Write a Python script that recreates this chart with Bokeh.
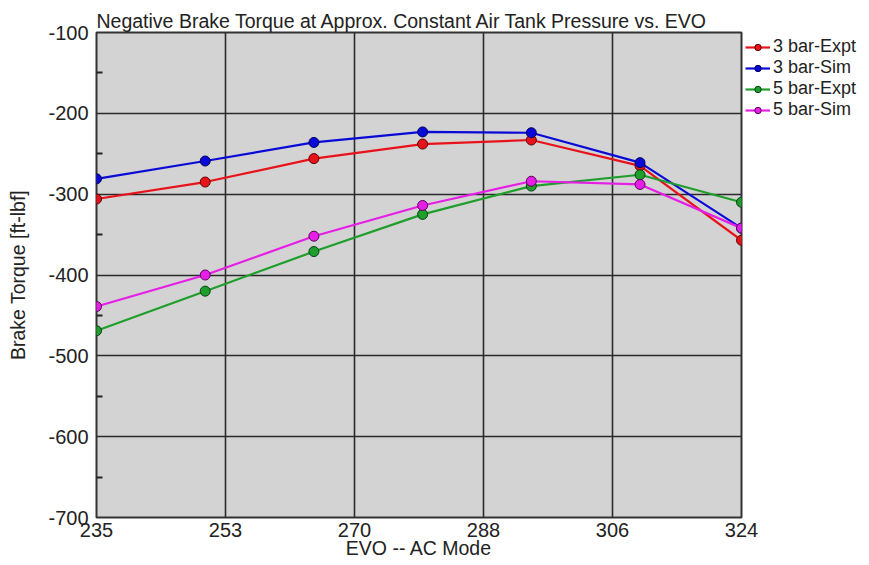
from bokeh.plotting import figure
from bokeh.models import Range1d, FixedTicker, Legend, LegendItem
from bokeh.embed import file_html
from bokeh.resources import INLINE

# EVO angle settings and measured / simulated brake torque (ft-lbf)
evo = [235, 250, 265, 280, 295, 310, 324]
bar3_expt = [-306, -285, -256, -238, -233, -265, -357]
bar3_sim = [-281, -259, -236, -223, -224, -261, -342]
bar5_expt = [-469, -420, -371, -325, -290, -276, -310]
bar5_sim = [-439, -400, -352, -314, -284, -288, -342]

series_names = ["3 bar-Expt", "3 bar-Sim", "5 bar-Expt", "5 bar-Sim"]
series_values = [bar3_expt, bar3_sim, bar5_expt, bar5_sim]
series_colors = ["#e8121a", "#0a0ad8", "#1f9e2c", "#e61ee6"]
series_edges = ["#5a0000", "#00005a", "#004010", "#5a005a"]

x_ticks = [235, 252.8, 270.6, 288.4, 306.2, 324]
x_tick_labels = ["235", "253", "270", "288", "306", "324"]
y_ticks = [-700, -600, -500, -400, -300, -200, -100]
y_tick_labels = ["-700", "-600", "-500", "-400", "-300", "-200", "-100"]
y_minor_ticks = [-650, -550, -450, -350, -250, -150]

FONT = "Liberation Sans"

p = figure(frame_width=645, frame_height=485, output_backend="svg",
           toolbar_location=None,
           x_range=Range1d(235, 324), y_range=Range1d(-700, -100),
           min_border_left=96, min_border_right=128, min_border_top=32,
           min_border_bottom=48)

p.title.text = "Negative Brake Torque at Approx. Constant Air Tank Pressure vs. EVO"
p.title.text_font = FONT
p.title.text_font_size = "19.5px"
p.title.text_font_style = "normal"
p.title.text_color = "#222222"
p.title.align = "left"
p.title.offset = 0
p.title.standoff = 1

p.background_fill_color = "#d3d3d3"
p.border_fill_color = "white"
p.outline_line_color = "#333333"
p.outline_line_width = 2

for ax in (p.xaxis[0], p.yaxis[0]):
    ax.axis_line_color = None
    ax.major_tick_in = 0
    ax.major_tick_out = 0
    ax.major_label_text_font = FONT
    ax.major_label_text_font_size = "20px"
    ax.major_label_text_color = "#222222"
    ax.axis_label_text_font = FONT
    ax.axis_label_text_font_size = "19.5px"
    ax.axis_label_text_font_style = "normal"
    ax.axis_label_text_color = "#222222"

p.xaxis.ticker = FixedTicker(ticks=x_ticks)
p.xaxis.major_label_overrides = dict(zip(x_ticks, x_tick_labels))
p.xaxis.minor_tick_line_color = None
p.xaxis.major_label_standoff = 5
p.xaxis.axis_label = "EVO -- AC Mode"
p.xaxis.axis_label_standoff = -3

p.yaxis.ticker = FixedTicker(ticks=y_ticks, minor_ticks=y_minor_ticks)
p.yaxis.major_label_overrides = dict(zip(y_ticks, y_tick_labels))
p.yaxis.minor_tick_in = 6
p.yaxis.minor_tick_out = 0
p.yaxis.minor_tick_line_color = "#222222"
p.yaxis.minor_tick_line_width = 2
p.yaxis.major_label_standoff = 8
p.yaxis.axis_label = "Brake Torque [ft-lbf]"
p.yaxis.axis_label_standoff = 16

p.grid.grid_line_color = "#2a2a2a"
p.grid.grid_line_width = 1.6
p.grid.grid_line_alpha = 1.0

items = []
for name, vals, col, edge in zip(series_names, series_values, series_colors, series_edges):
    ln = p.line(evo, vals, line_color=col, line_width=2.2)
    sc = p.scatter(evo, vals, marker="circle", size=10, fill_color=col,
                   line_color=edge, line_width=1)
    items.append(LegendItem(label=name, renderers=[ln, sc]))

legend = Legend(items=items, location="top_left")
legend.label_text_font = FONT
legend.label_text_font_size = "18px"
legend.label_text_color = "#222222"
legend.label_standoff = 3
legend.glyph_width = 25
legend.glyph_height = 16
legend.label_height = 16
legend.spacing = 0
legend.padding = 0
legend.margin = 4
legend.border_line_color = None
legend.background_fill_color = "white"
p.add_layout(legend, "right")

open("out.html", "w").write(file_html(p, INLINE))
